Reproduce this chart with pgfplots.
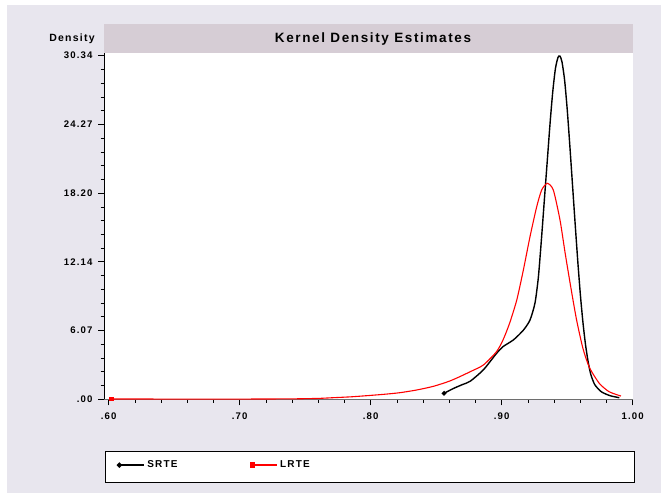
\documentclass[border=0pt]{standalone}
\usepackage{fontspec}
\setmainfont{Liberation Sans}
\newfontfamily\lsfont[LetterSpace=12]{Liberation Sans}
\usepackage{pgfplots}
\pgfplotsset{compat=1.18}
\definecolor{bgcol}{RGB}{232,230,238}
\definecolor{bandcol}{RGB}{214,205,213}
\definecolor{axgray}{RGB}{110,110,110}
\begin{document}
\begin{tikzpicture}[x=1pt,y=1pt]
\useasboundingbox (0,0) rectangle (661,-493);
\fill[white] (0,0) rectangle (661,-493);
\fill[bgcol] (7,-5) rectangle (661,-493);
\fill[bandcol] (104,-24) rectangle (632.7,-53.3);
\node[font=\lsfont\bfseries\fontsize{13.5}{16}\selectfont] at (373,-38.7) {Kernel Density Estimates};
\node[font=\lsfont\bfseries\fontsize{10.5}{12}\selectfont] at (72,-38.5) {Density};
\draw[black, line width=0.9pt, fill=white] (105.7,-451) rectangle (634.3,-482);
\begin{axis}[
  at={(104pt,-399.3pt)}, anchor=south west,
  scale only axis, width=528.7pt, height=346pt,
  xmin=0.5964, xmax=1.0, ymin=0, ymax=30.55,
  axis x line=bottom, axis y line=left,
  axis line style={-},
  x axis line style={axgray, line width=1pt},
  y axis line style={black, line width=0.9pt},
  axis background/.style={fill=white},
  clip=false,
  xtick={0.6,0.7,0.8,0.9,1.0},
  xticklabels={.60,.70,.80,.90,1.00},
  ytick={0,6.068,12.136,18.204,24.272,30.34},
  yticklabels={.00,6.07,12.14,18.20,24.27,30.34},
  minor x tick num=4, minor y tick num=4,
  tick align=outside,
  major tick length=6pt, minor tick length=3.5pt,
  every tick/.style={black, line width=0.8pt},
  every minor tick/.style={black, line width=0.7pt},
  tick label style={font=\lsfont\bfseries\fontsize{9.6}{12}\selectfont},
  xticklabel style={yshift=-3.5pt},
  yticklabel style={xshift=-2pt},
  legend style={draw=none, fill=none, at={(0.02,-0.19)}, anchor=west,
    font=\lsfont\bfseries\fontsize{10}{12}\selectfont,
    /tikz/every even column/.append style={column sep=71pt}},
  legend columns=2,
  legend cell align=left,
  legend image code/.code={\draw[#1, line width=1.8pt] plot coordinates {(0pt,0pt) (12pt,0pt) (25pt,0pt)};},
]
\addplot[black, line width=1.4pt, smooth, tension=0.4, mark=*, mark indices={1}, mark size=1.6pt] coordinates {
(0.856,0.53) (0.863,0.95) (0.870,1.3) (0.876,1.6) (0.886,2.6) (0.896,4.05)
(0.901,4.65) (0.909,5.25) (0.9165,6.1) (0.9216,7.0) (0.9254,8.5) (0.928,10.8)
(0.9305,14.4) (0.933,18.3) (0.935,21.4) (0.937,24.5) (0.939,27.2) (0.941,29.2)
(0.943,30.2) (0.9445,30.3) (0.946,29.8) (0.948,28.2) (0.950,25.6) (0.952,22.4)
(0.954,19.0) (0.956,15.6) (0.958,12.3) (0.960,9.3) (0.962,6.8) (0.964,4.8)
(0.966,3.3) (0.968,2.2) (0.971,1.3) (0.976,0.67) (0.9827,0.32) (0.9898,0.14)
};
\addlegendentry{SRTE}
\addplot[red, line width=1.1pt, smooth, tension=0.4, mark=square*, mark indices={1}, mark size=1.7pt] coordinates {
(0.602,0.03) (0.65,0.02) (0.70,0.02) (0.74,0.04) (0.76,0.08) (0.771,0.14)
(0.785,0.22) (0.797,0.32) (0.810,0.44) (0.822,0.58) (0.835,0.82) (0.848,1.15)
(0.860,1.6) (0.868,2.0) (0.876,2.44) (0.886,3.03) (0.896,4.2) (0.901,5.24)
(0.906,6.71) (0.9115,8.77) (0.9165,11.4) (0.9216,14.36) (0.9267,17.0) (0.9305,18.48)
(0.9348,19.07) (0.9394,18.48) (0.9445,15.83) (0.9483,13.0) (0.952,10.4) (0.957,7.1)
(0.962,4.5) (0.967,2.8) (0.9745,1.41) (0.982,0.67) (0.991,0.29)
};
\addlegendentry{LRTE}
\end{axis}
\end{tikzpicture}
\end{document}
